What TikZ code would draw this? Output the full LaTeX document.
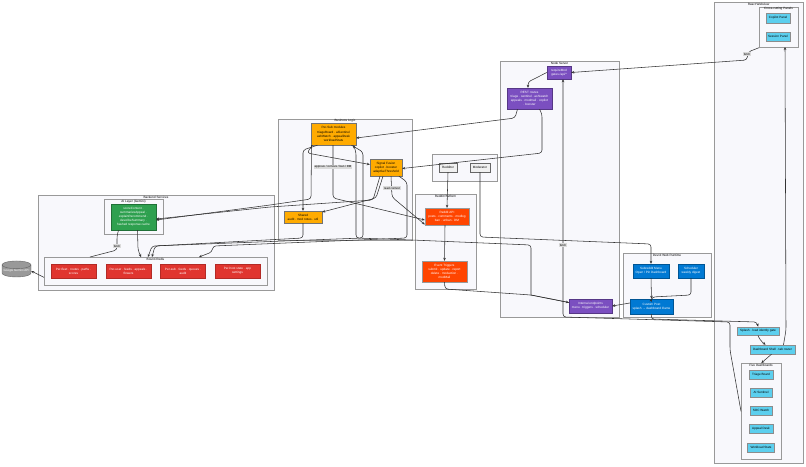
\documentclass[tikz,border=0pt]{standalone}
\usepackage{fontspec}
\setmainfont{Liberation Sans}
\usetikzlibrary{shapes.geometric, arrows.meta}
\definecolor{GroupFill}{HTML}{F8F8FC}
\definecolor{GroupLine}{HTML}{999999}
\definecolor{EdgeGrey}{HTML}{333333}
\definecolor{LogicOrange}{HTML}{FFAB00}
\definecolor{RedisRed}{HTML}{E0352F}
\definecolor{AiGreen}{HTML}{2EA04F}
\definecolor{ServerPurple}{HTML}{7B4FC0}
\definecolor{RedditOrange}{HTML}{FF4500}
\definecolor{DevvitBlue}{HTML}{0079D3}
\definecolor{WebCyan}{HTML}{5CCFEE}
\tikzset{
    % Group frames
    groupbox/.style={
        rectangle,
        draw=GroupLine,
        fill=GroupFill,
        line width=0.7pt,
        anchor=north west,
        inner sep=0pt
    },
    grouplabel/.style={
        font=\fontsize{3.1}{3.7}\selectfont,
        text=black,
        inner sep=0pt
    },
    % Node styles
    basebox/.style={
        rectangle,
        line width=0.4pt,
        inner sep=0.5pt,
        align=center,
        font=\fontsize{3.1}{4.1}\selectfont
    },
    logicbox/.style={basebox, draw=black!55, fill=LogicOrange, text=black},
    redisbox/.style={basebox, draw=RedisRed!80!black, fill=RedisRed, text=white},
    aibox/.style={basebox, draw=AiGreen!70!black, fill=AiGreen, text=white},
    serverbox/.style={basebox, draw=ServerPurple!70!black, fill=ServerPurple, text=white},
    redditbox/.style={basebox, draw=black!40, fill=RedditOrange, text=white},
    devvitbox/.style={basebox, draw=DevvitBlue!70!black, fill=DevvitBlue, text=white},
    webbox/.style={basebox, draw=black!45, fill=WebCyan, text=black},
    actorbox/.style={basebox, draw=black!60, fill=black!6, text=black},
    apicyl/.style={
        cylinder,
        shape border rotate=90,
        aspect=0.3,
        draw=black!60,
        fill=black!40,
        line width=0.4pt,
        inner sep=0pt,
        align=center,
        text=white,
        font=\fontsize{3}{4}\selectfont
    },
    edgelabel/.style={
        fill=black!14,
        inner sep=0.6pt,
        font=\fontsize{2.9}{3.4}\selectfont
    },
    % Arrow styles
    myarrow/.style={
        -{Stealth[length=3pt,width=2.6pt]},
        line width=0.55pt,
        EdgeGrey,
        rounded corners=3pt
    },
    plainline/.style={
        line width=0.55pt,
        EdgeGrey,
        rounded corners=3pt
    }
}
\begin{document}
\begin{tikzpicture}[x=1pt, y=-1pt]
    \useasboundingbox (0,0) rectangle (806,466);

    % Groups
    \node[groupbox, minimum width=236pt, minimum height=95pt] (backendgroup) at (38,195) {};
    \node[groupbox, minimum width=59pt, minimum height=35pt] (aigroup) at (104,199) {};
    \node[groupbox, minimum width=223pt, minimum height=28pt] (redisgroup) at (44,257) {};
    \node[groupbox, minimum width=134pt, minimum height=121pt] (logicgroup) at (278,119) {};
    \node[groupbox, minimum width=65pt, minimum height=27pt] (actorgroup) at (432,154) {};
    \node[groupbox, minimum width=61pt, minimum height=95pt] (redditgroup) at (415,194) {};
    \node[groupbox, minimum width=119pt, minimum height=256pt] (servergroup) at (500,61) {};
    \node[groupbox, minimum width=88pt, minimum height=64pt] (runtimegroup) at (623,253) {};
    \node[groupbox, minimum width=89pt, minimum height=461pt] (webgroup) at (714,2) {};
    \node[groupbox, minimum width=39pt, minimum height=40pt] (panelgroup) at (759,7) {};
    \node[groupbox, minimum width=40pt, minimum height=96pt] (boardgroup) at (741,363) {};

    % Group titles
    \node[grouplabel] (backendtitle) at (156,197.5) {Backend Services};
    \node[grouplabel] (aititle) at (133.5,201.5) {AI Layer (Gemini)};
    \node[grouplabel] (redistitle) at (155.5,259.5) {Bounti Redis};
    \node[grouplabel] (logictitle) at (345,121) {Business Logic};
    \node[grouplabel] (reddittitle) at (445.5,196.5) {Reddit Platform};
    \node[grouplabel] (servertitle) at (559.5,63) {Node Server};
    \node[grouplabel] (runtimetitle) at (667,255) {Devvit Web Runtime};
    \node[grouplabel] (webtitle) at (758.5,4.5) {React Webview};
    \node[grouplabel] (paneltitle) at (778.5,9) {Cross-cutting Panels};
    \node[grouplabel] (boardtitle) at (761,365) {Five Dashboards};

    % AI and storage
    \node[aibox, minimum width=45pt, minimum height=26pt] (gemini) at (133.5,217)
        {scoreContent ·\\summarizeAppeal ·\\explainRecommend ·\\describeSummary ·\\hashed response cache};
    \node[redisbox, minimum width=45pt, minimum height=14pt] (fleetkeys) at (73.5,271) {Per-fleet · routes · paths ·\\scores};
    \node[redisbox, minimum width=45pt, minimum height=14pt] (userkeys) at (128.5,271) {Per-user · feeds · appeals ·\\flowers};
    \node[redisbox, minimum width=45pt, minimum height=14pt] (subkeys) at (183,271) {Per-sub · feeds · queues ·\\audit};
    \node[redisbox, minimum width=45pt, minimum height=14pt] (hostkeys) at (237.5,271) {Per-host state · app\\settings};
    \node[apicyl, minimum width=29pt, minimum height=16pt] (geminiapi) at (16.5,271) {Google Gemini API};

    % Business logic
    \node[logicbox, minimum width=45pt, minimum height=22pt] (persub) at (333.5,134)
        {Per-Sub modules\\triageBoard · aiSentinel\\ashWatch · appealDesk\\workloadStats};
    \node[logicbox, minimum width=32pt, minimum height=17pt] (fusion) at (386,167.5)
        {Signal Fusion\\copilot · booster\\adaptiveThreshold};
    \node[logicbox, minimum width=38pt, minimum height=12pt] (shared) at (303,217) {Shared\\audit · mod notes · util};

    % Reddit side
    \node[actorbox, minimum width=18pt, minimum height=9pt] (redditor) at (448,167.5) {Redditor};
    \node[actorbox, minimum width=20pt, minimum height=9pt] (moderator) at (480,167.5) {Moderator};
    \node[redditbox, minimum width=44pt, minimum height=17pt] (redditapi) at (447,216.5)
        {Reddit API\\posts · comments · modlog\\ban · unban · DM};
    \node[redditbox, minimum width=45pt, minimum height=21pt] (triggers) at (444.5,271.5)
        {Event Triggers\\submit · update · report\\delete · modaction ·\\modMail};

    % Server
    \node[serverbox, minimum width=24pt, minimum height=13pt] (authgate) at (559,72.5) {requireMod\\gates /api/*};
    \node[serverbox, minimum width=45pt, minimum height=21pt] (restroutes) at (529.5,98.5)
        {REST routes\\triage · sentinel · ash/watch\\appeals · modmail · copilot\\· booster};
    \node[serverbox, minimum width=43pt, minimum height=14pt] (internal) at (590.5,306)
        {Internal endpoints\\menu · triggers · scheduler};

    % Devvit runtime
    \node[devvitbox, minimum width=36pt, minimum height=14pt] (submenu) at (651,271) {Subreddit Menu\\Open / Pin Dashboard};
    \node[devvitbox, minimum width=26pt, minimum height=14pt] (scheduler) at (691,271) {Scheduler\\weekly digest};
    \node[devvitbox, minimum width=43pt, minimum height=15pt] (custompost) at (651.5,306.5) {Custom Post\\splash → dashboard iframe};

    % Webview
    \node[webbox, minimum width=24pt, minimum height=10pt] (copilotpanel) at (778,18) {Copilot Panel};
    \node[webbox, minimum width=24pt, minimum height=9pt] (sessionpanel) at (778,36.5) {Session Panel};
    \node[webbox, minimum width=42pt, minimum height=8.5pt] (splashgate) at (758,331) {Splash · load identity gate};
    \node[webbox, minimum width=45pt, minimum height=9pt] (shell) at (772.5,349.5) {Dashboard Shell · tab router};
    \node[webbox, minimum width=24pt, minimum height=9pt] (triageboard) at (761,374.5) {Triage Board};
    \node[webbox, minimum width=22pt, minimum height=9pt] (aisentinel) at (761,392.5) {AI Sentinel};
    \node[webbox, minimum width=22pt, minimum height=9pt] (socwatch) at (761,410.5) {SOC Watch};
    \node[webbox, minimum width=24pt, minimum height=9pt] (appealdesk) at (761,428.5) {Appeal Desk};
    \node[webbox, minimum width=27pt, minimum height=9pt] (workload) at (761,447.5) {Workload Stats};

    % Webview edges
    \draw[myarrow] (panelgroup.south west) -- (748,52) -- (747,60) -- (authgate.east);
    \draw[myarrow] ([xshift=11pt]shell.north) -- (786,330) -- (785,47);
    \draw[myarrow] (splashgate.south) -- (760,340) -- ([xshift=-7pt]shell.north);
    \draw[myarrow] ([xshift=-1pt]shell.south) -- (boardgroup.north);
    \draw[myarrow] (boardgroup.west) -- (730,350) -- (730,322) -- (563,317) -- ([xshift=4pt]authgate.south);
    \draw[myarrow] (custompost.south) -- (651,319) -- (757,322) -- (splashgate.north);

    % Runtime edges
    \draw[myarrow] (submenu.south) -- (custompost.north);
    \draw[myarrow] (scheduler.south) -- (691,295) -- (652,297) -- (custompost.north);
    \draw[myarrow] ([yshift=3.5pt]custompost.west) -- (internal.east);
    \draw[myarrow] (moderator.south) -- (480,237) -- (651,244) -- (submenu.north);

    % Reddit edges
    \draw[myarrow] (redditor.south) -- (redditapi.north);
    \draw[myarrow] ([xshift=-2pt]redditapi.south) -- (triggers.north);
    \draw[myarrow] (triggers.south) -- (445,289) -- (531,295) -- ([yshift=3.5pt]internal.west);

    % Server edges
    \draw[myarrow] (authgate.west) -- (528,82) -- ([xshift=-1.5pt]restroutes.north);
    \draw[myarrow] ([xshift=-12pt]restroutes.south) -- (515,118) -- ([yshift=-4pt]persub.east);
    \draw[myarrow] ([xshift=10pt]restroutes.south) -- (542,114) -- (542,153) -- ([yshift=-1pt]fusion.east);

    % Business logic edges
    \draw[myarrow] ([xshift=-21pt]persub.south) -- (307,153) -- ([yshift=3pt]fusion.west);
    \draw[myarrow] ([xshift=-16pt]persub.south) -- (303,150) -- (shared.north);
    \draw[myarrow] ([xshift=-0.5pt]persub.south) -- (333,198) -- ([yshift=-3.5pt]redditapi.west);
    \draw[myarrow] ([xshift=-3pt]fusion.south) -- (376,198) -- ([yshift=5pt]shared.east);
    \draw[myarrow] ([xshift=5pt]fusion.south) -- (392,197) -- ([yshift=-8pt]redditapi.west);
    \draw[plainline] ([yshift=3.5pt]internal.west) -- (531,295);
    \draw[myarrow] (531,295) -- (531,245) -- (412,240) -- (356,238) -- (356,152) -- ([xshift=20pt]persub.south);

    % Edges into the backend
    \draw[myarrow] ([xshift=-22pt]persub.south) -- (311,199) -- (270,205) -- ([yshift=-3pt]gemini.east);
    \draw[myarrow] ([xshift=-6pt]fusion.south) -- (373,200) -- (270,207) -- ([yshift=-2pt]gemini.east);
    \draw[myarrow] (shared.south) -- (303,238) -- (155,246) -- (152,257);
    \draw[myarrow] ([xshift=18pt]persub.south) -- (363,152) -- (363,238) -- (152,246) -- (148,257);
    \draw[myarrow] ([xshift=13pt]fusion.south) -- (407,182) -- (407,238) -- (213,246) -- (212,252) -- (199,257);
    \draw[myarrow] ([xshift=4pt]gemini.south) -- (138,250) -- (141,257);
    \draw[plainline] ([xshift=-15pt]gemini.south) -- (117,236) -- (117,250) -- (90,257);
    \draw[myarrow] ([yshift=-6pt]redisgroup.west) -- (geminiapi.east);

    % Edge labels
    \node[edgelabel] (fetchweb) at (747,54) {fetch};
    \node[edgelabel] (fetchboard) at (563,245) {fetch};
    \node[edgelabel] (fetchai) at (117,246) {fetch};
    \node[edgelabel] (modlabel) at (333,167) {approve / remove / ban / DM};
    \node[edgelabel] (readlabel) at (392,188) {read context};
\end{tikzpicture}
\end{document}
